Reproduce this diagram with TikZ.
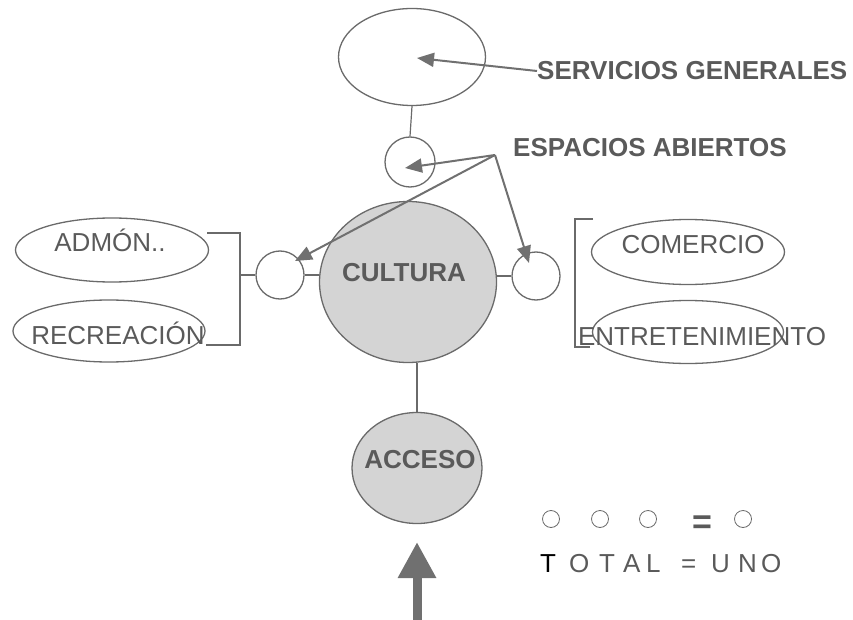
\documentclass[tikz,border=0pt]{standalone}
\usepackage{fontspec}
\setmainfont{Liberation Sans}
\usetikzlibrary{shapes.geometric,arrows.meta,calc}
\definecolor{ln}{HTML}{6A6A6A}
\definecolor{tx}{HTML}{5A5A5A}
\definecolor{fl}{HTML}{D4D4D4}
\definecolor{arw}{HTML}{707070}
\tikzset{
  ov/.style={draw=ln, line width=1.3pt, ellipse, inner sep=0pt},
  lbl/.style={text=tx, font=\fontsize{26}{28}\selectfont, inner sep=0pt},
  blbl/.style={text=tx, font=\fontsize{26}{28}\selectfont\bfseries, inner sep=0pt},
  conn/.style={draw=ln, line width=1.2pt},
  pt/.style={draw=arw, line width=2pt, -{Triangle[length=17pt,width=14pt]}},
  leg/.style={draw=ln, line width=0.8pt, circle, minimum size=17pt, inner sep=0pt},
}
\newcommand{\lt}[2]{\rlap{#1}\kern#2pt}
\begin{document}
\begin{tikzpicture}[x=1pt,y=-1pt]
\useasboundingbox (0,0) rectangle (853,620);
% main nodes
\node[ov, minimum width=147pt, minimum height=97pt] (top) at (412,57) {};
\node[ov, minimum width=50pt, minimum height=50pt] (sc) at (410,162) {};
\node[ov, fill=fl, minimum width=177pt, minimum height=161pt] (cul) at (408,282) {};
\node[blbl] (cult) at (404,273) {CULTURA};
\node[ov, minimum width=48pt, minimum height=48pt] (lc) at (280,275) {};
\node[ov, minimum width=48pt, minimum height=48pt] (rc) at (536,276) {};
\node[ov, fill=fl, minimum width=130pt, minimum height=111pt] (acc) at (417,468) {};
\node[blbl] (acct) at (420,460) {ACCESO};
% side ovals
\node[ov, minimum width=193pt, minimum height=64pt] (adm) at (112,250) {};
\node[lbl] (admt) at (110,240) {ADMÓN..};
\node[ov, minimum width=192pt, minimum height=62pt] (rec) at (109,331) {};
\node[lbl] (rect) at (118,333) {RECREACIÓN};
\node[ov, minimum width=193pt, minimum height=65pt] (com) at (688,252) {};
\node[lbl] (comt) at (693,245) {COMERCIO};
\node[ov, minimum width=191pt, minimum height=63pt] (ent) at (688,332) {};
\node[lbl] (entt) at (702,337) {ENTRETENIMIENTO};
% connectors
\draw[conn] (top.south) -- (sc.north);
\draw[conn] (acc.north) -- (acc.north |- cul.south);
\draw[conn] (lc.east) -- (lc.east -| cul.west);
\draw[conn] (rc.west) -- (rc.west -| cul.east);
% left bracket
\coordinate (lb1) at (207,233);
\coordinate (lb2) at (240,233);
\coordinate (lb3) at (240,345);
\coordinate (lb4) at (206,345);
\draw[conn] (lb1) -- (lb2) -- (lb3) -- (lb4);
\draw[conn] (lc.west) -- (lc.west -| lb2);
% right bracket
\coordinate (rb1) at (593,219);
\coordinate (rb2) at (575,219);
\coordinate (rb3) at (575,347);
\coordinate (rb4) at (590,347);
\draw[conn] (rb1) -- (rb2) -- (rb3) -- (rb4);
% labels with arrows
\node[blbl, anchor=west] (serv) at (537,71) {SERVICIOS GENERALES};
\coordinate (servtip) at (417,58);
\draw[pt] (serv.west) -- (servtip);
\node[blbl, anchor=west] (esp) at (513,148) {ESPACIOS ABIERTOS};
\coordinate (apex) at (495,155);
\coordinate (t1) at (405,168);
\coordinate (t2) at (295,261);
\coordinate (t3) at (529,263);
\draw[pt] (apex) -- (t1);
\draw[pt] (apex) -- (t2);
\draw[pt] (apex) -- (t3);
% bottom arrow
\coordinate (ab) at (417,620);
\draw[draw=arw, line width=9pt, -{Triangle[length=36pt,width=36pt]}] (ab) -- (acc.south |- 0,542);
% legend
\node[leg] (o1) at (551,519) {};
\node[leg] (o2) at (600,519) {};
\node[leg] (o3) at (648,519) {};
\node[text=tx, font=\fontsize{34}{34}\selectfont\bfseries, inner sep=0pt] (eq) at (702,525) {=};
\node[leg] (o4) at (743,519) {};
\node[text=tx, font=\fontsize{26}{28}\selectfont, anchor=west, inner sep=0pt] (tot) at (540,564)
  {\lt{\textcolor{black}{T}}{29}\lt{O}{30}\lt{T}{24}\lt{A}{23}\lt{L}{35}\lt{=}{30}\lt{U}{27}\lt{N}{23}O};
\end{tikzpicture}
\end{document}
